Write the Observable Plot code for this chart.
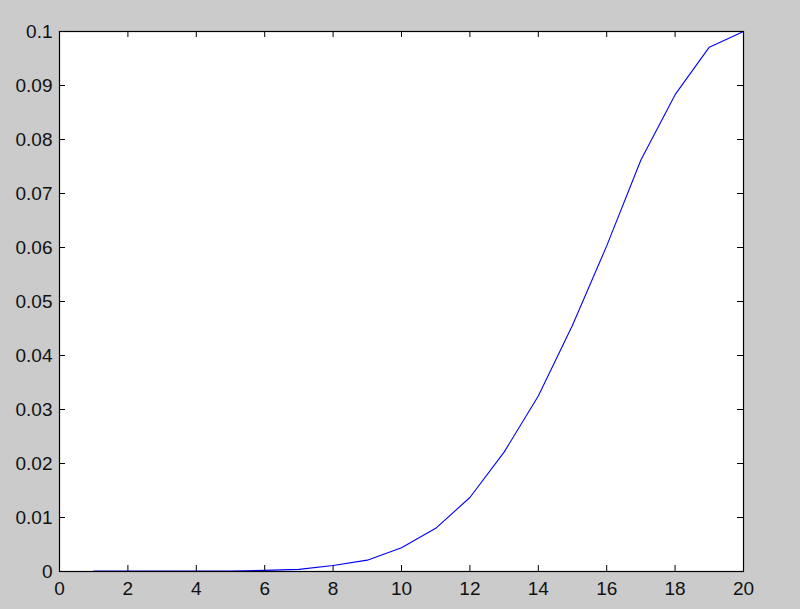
<!DOCTYPE html>
<html>
<head>
<meta charset="utf-8">
<script src="https://cdn.jsdelivr.net/npm/d3@7"></script>
<script src="https://cdn.jsdelivr.net/npm/@observablehq/plot@0.6"></script>
<style>
  html, body { margin: 0; padding: 0; background: #cbcbcb; }
  #chart { width: 800px; height: 609px; }
</style>
</head>
<body>
<div id="chart"></div>
<script>
const xs = [1, 2, 3, 4, 5, 6, 7, 8, 9, 10, 11, 12, 13, 14, 15, 16, 17, 18, 19, 20];
const ys = [0.0001, 0.0001, 0.0001, 0.0001, 0.0001, 0.0002, 0.0004, 0.0011, 0.0021, 0.0044,
            0.0080, 0.0137, 0.0221, 0.0325, 0.0456, 0.0603, 0.0762, 0.0883, 0.0971, 0.1];
const xTicks = [0, 2, 4, 6, 8, 10, 12, 14, 16, 18, 20];
const yTicks = [0, 0.01, 0.02, 0.03, 0.04, 0.05, 0.06, 0.07, 0.08, 0.09, 0.1];

const data = xs.map((x, i) => ({x, y: ys[i]}));

const W = 800, H = 609;
const mL = 59, mR = 57, mT = 31, mB = 38;
const fw = W - mL - mR, fh = H - mT - mB;
const tk = 6;

const chart = Plot.plot({
  width: W,
  height: H,
  marginLeft: mL,
  marginRight: mR,
  marginTop: mT,
  marginBottom: mB,
  style: {background: "#cbcbcb", fontFamily: "'Liberation Sans', Arial, sans-serif", fontSize: "19px", color: "#111"},
  x: {domain: [0, 20]},
  y: {domain: [0, 0.1]},
  marks: [
    Plot.frame({fill: "white", stroke: "none"}),
    Plot.line(data, {x: "x", y: "y", stroke: "#0000ff", strokeWidth: 1.1}),
    Plot.tickX(xTicks, {x: d => d, insetTop: fh - tk, stroke: "black"}),
    Plot.tickX(xTicks, {x: d => d, insetBottom: fh - tk, stroke: "black"}),
    Plot.tickY(yTicks, {y: d => d, insetRight: fw - tk, stroke: "black"}),
    Plot.tickY(yTicks, {y: d => d, insetLeft: fw - tk, stroke: "black"}),
    Plot.frame({stroke: "black", strokeWidth: 1.2}),
    Plot.axisX({ticks: xTicks, tickSize: 0, tickPadding: 10, label: null, tickFormat: d => String(d)}),
    Plot.axisY({ticks: yTicks, tickSize: 0, tickPadding: 7, label: null, tickFormat: d => String(+d.toFixed(2))})
  ]
});
document.getElementById("chart").appendChild(chart);
</script>
</body>
</html>
